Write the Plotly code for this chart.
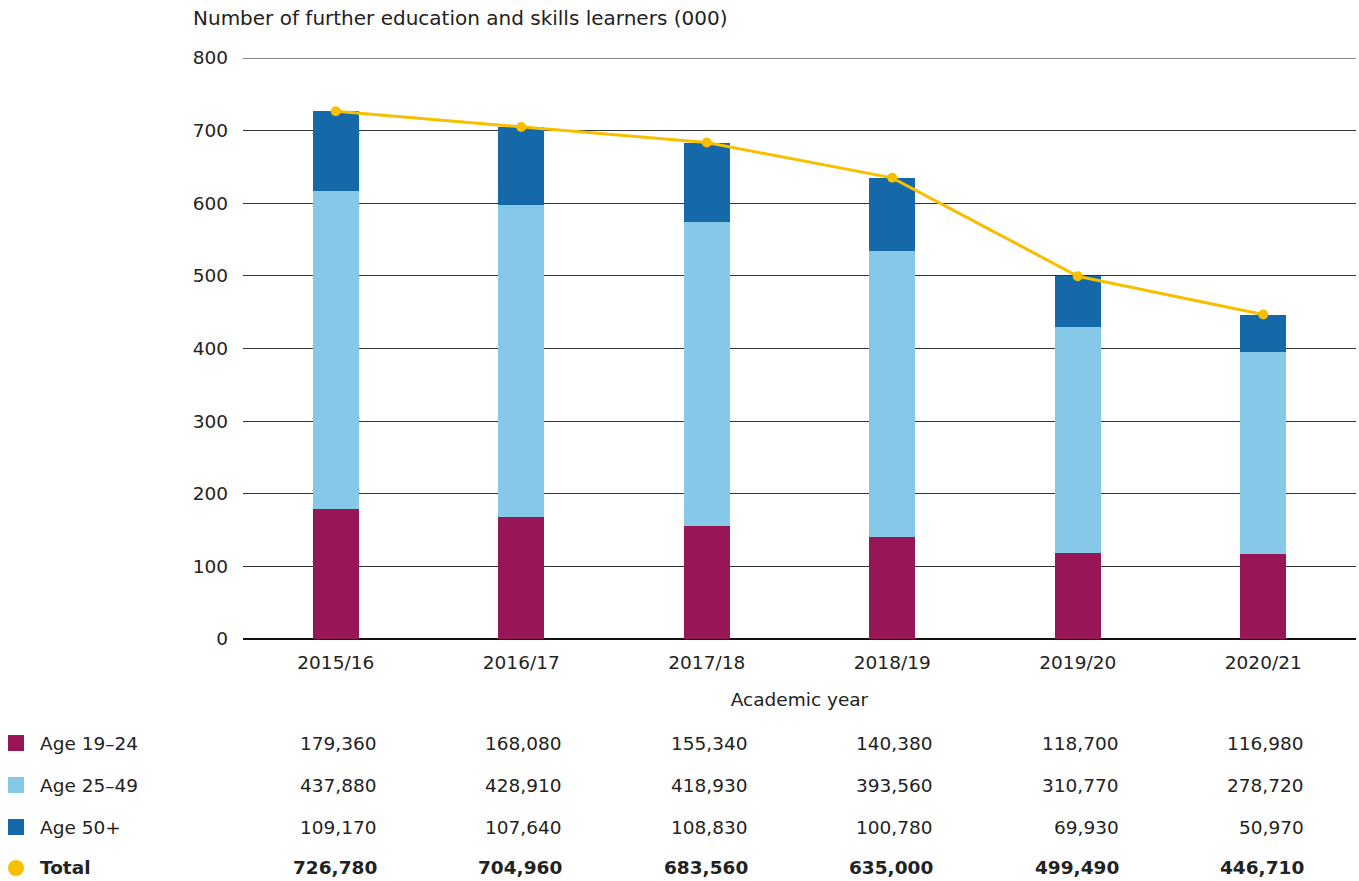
import plotly.graph_objects as go

# Academic years and learner counts by age band
years = ["2015/16", "2016/17", "2017/18", "2018/19", "2019/20", "2020/21"]
age_19_24 = [179360, 168080, 155340, 140380, 118700, 116980]
age_25_49 = [437880, 428910, 418930, 393560, 310770, 278720]
age_50_plus = [109170, 107640, 108830, 100780, 69930, 50970]
total = [726780, 704960, 683560, 635000, 499490, 446710]

series_names = ["Age 19–24", "Age 25–49", "Age 50+"]
series_values = [age_19_24, age_25_49, age_50_plus]
series_colors = ["#961656", "#85C8E8", "#1569A8"]
total_color = "#F8BE00"

FONT = "DejaVu Sans, Liberation Sans, Arial, sans-serif"
TEXT = "#222222"
FS = 18.5

W, H = 1359, 881
L, R, T, B = 243, 3, 58, 242
plot_h = H - T - B


def py(px):
    """Pixel row -> paper y."""
    return (H - B - px) / plot_h


def px_x(px):
    """Pixel column -> paper x."""
    return (px - L) / (W - L - R)


fig = go.Figure()

for name, vals, col in zip(series_names, series_values, series_colors):
    fig.add_trace(go.Bar(
        x=years, y=[v / 1000 for v in vals], name=name,
        marker=dict(color=col, line=dict(width=0)),
        hoverinfo="x+y+name",
    ))

fig.add_trace(go.Scatter(
    x=years, y=[v / 1000 for v in total], name="Total",
    mode="lines+markers",
    line=dict(color=total_color, width=3),
    marker=dict(color=total_color, size=10),
))

annotations = []
shapes = []

# Top gridline at 800 (range edge)
shapes.append(dict(
    type="line", xref="paper", yref="y", x0=0, x1=1, y0=800, y1=800,
    line=dict(color="#111111", width=1), layer="below",
))

# Chart title above the value axis
annotations.append(dict(
    text="Number of further education and skills learners (000)",
    xref="paper", yref="paper", x=px_x(191), y=py(18),
    xanchor="left", yanchor="middle", showarrow=False,
    font=dict(family=FONT, size=20, color=TEXT),
))

# Data table beneath the chart, one row per series
row_px = [743, 785, 827, 868]
row_labels = series_names + ["Total"]
row_values = series_values + [total]
for i, (lab, vals, ypx) in enumerate(zip(row_labels, row_values, row_px)):
    bold = lab == "Total"
    annotations.append(dict(
        text=f"<b>{lab}</b>" if bold else lab,
        xref="paper", yref="paper", x=px_x(38), y=py(ypx),
        xanchor="left", yanchor="middle", showarrow=False,
        font=dict(family=FONT, size=FS, color=TEXT),
    ))
    for yr, v in zip(years, vals):
        s = f"{v:,}"
        annotations.append(dict(
            text=f"<b>{s}</b>" if bold else s,
            xref="x", yref="paper", x=yr, y=py(ypx),
            xanchor="right", yanchor="middle", xshift=43, showarrow=False,
            font=dict(family=FONT, size=FS, color=TEXT),
        ))
    if i < 3:
        shapes.append(dict(
            type="rect", xref="paper", yref="paper",
            x0=px_x(8), x1=px_x(24), y0=py(ypx + 8), y1=py(ypx - 8),
            fillcolor=series_colors[i], line=dict(width=0),
        ))
    else:
        shapes.append(dict(
            type="circle", xref="paper", yref="paper",
            x0=px_x(8), x1=px_x(24), y0=py(ypx + 8), y1=py(ypx - 8),
            fillcolor=total_color, line=dict(width=0),
        ))

fig.update_layout(
    width=W, height=H,
    margin=dict(l=L, r=R, t=T, b=B),
    paper_bgcolor="white", plot_bgcolor="white",
    barmode="stack", bargap=0.752,
    showlegend=False,
    font=dict(family=FONT, size=FS, color=TEXT),
    annotations=annotations,
    shapes=shapes,
    xaxis=dict(
        showgrid=False, showline=False, ticks="",
        ticklabelstandoff=10,
        tickfont=dict(size=FS, color=TEXT),
        title=dict(text="Academic year", font=dict(size=FS, color=TEXT), standoff=21),
    ),
    yaxis=dict(
        range=[0, 800], dtick=100, tickformat="d",
        showgrid=True, gridcolor="#333333", gridwidth=1,
        zeroline=True, zerolinecolor="#111111", zerolinewidth=1.5,
        showline=False, ticks="", ticklabelstandoff=14,
        tickfont=dict(size=FS, color=TEXT),
    ),
)

fig.write_html("out.html")
